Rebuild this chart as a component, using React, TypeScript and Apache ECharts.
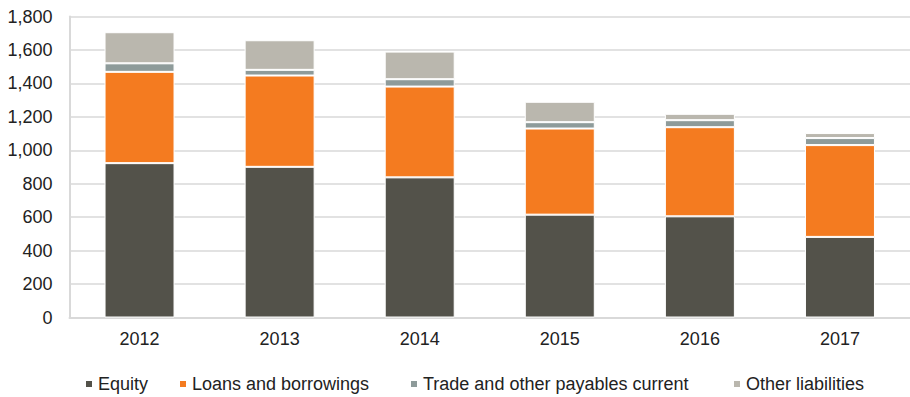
import React, { useEffect, useRef } from "react";
import * as echarts from "echarts";

const years = ["2012", "2013", "2014", "2015", "2016", "2017"];
const equity = [923, 901, 838, 615, 605, 482];
const loans = [546, 546, 543, 515, 533, 549];
const tradePayables = [51, 34, 44, 38, 42, 42];
const otherLiabilities = [186, 177, 165, 122, 38, 30];

const seriesNames = [
  "Equity",
  "Loans and borrowings",
  "Trade and other payables current",
  "Other liabilities",
];
const seriesColors = ["#53524a", "#f47b20", "#8e9b9a", "#bab7ae"];
const seriesData = [equity, loans, tradePayables, otherLiabilities];
const legendLefts = [84, 178, 409, 732];

const FONT = "Liberation Sans, Arial, sans-serif";

export default function App() {
  const ref = useRef<HTMLDivElement>(null);
  useEffect(() => {
    if (!ref.current) return;
    const chart = echarts.init(ref.current, null, { renderer: "svg" });
    chart.setOption({
      animation: false,
      backgroundColor: "#ffffff",
      grid: { left: 69.5, top: 16.5, width: 851, height: 301, containLabel: false },
      legend: seriesNames.map((name, i) => ({
        left: legendLefts[i],
        top: 375,
        padding: 0,
        itemWidth: 8,
        itemHeight: 8,
        icon: "rect",
        textStyle: { fontFamily: FONT, fontSize: 18, color: "#222222" },
        data: [name],
      })),
      xAxis: {
        type: "category",
        data: years,
        axisLine: { show: true, lineStyle: { color: "#d9d9d9", width: 2 } },
        axisTick: { show: false },
        axisLabel: { fontFamily: FONT, fontSize: 18, color: "#222222", margin: 12 },
      },
      yAxis: {
        type: "value",
        min: 0,
        max: 1800,
        interval: 200,
        axisLine: { show: true, lineStyle: { color: "#d9d9d9", width: 2 } },
        axisTick: { show: false },
        splitLine: { show: true, lineStyle: { color: "#d9d9d9", width: 1.5 } },
        axisLabel: {
          fontFamily: FONT,
          fontSize: 18,
          color: "#222222",
          margin: 17,
          formatter: (v: number) => v.toLocaleString("en-US"),
        },
      },
      series: seriesNames.map((name, i) => ({
        name,
        type: "bar",
        stack: "total",
        barWidth: 70,
        data: seriesData[i],
        itemStyle: { color: seriesColors[i], borderColor: "#ffffff", borderWidth: 1 },
      })),
    });
    return () => chart.dispose();
  }, []);
  return (
    <div
      ref={ref}
      style={{ position: "absolute", left: 0, top: 0, width: 910, height: 397, overflow: "hidden" }}
    />
  );
}
